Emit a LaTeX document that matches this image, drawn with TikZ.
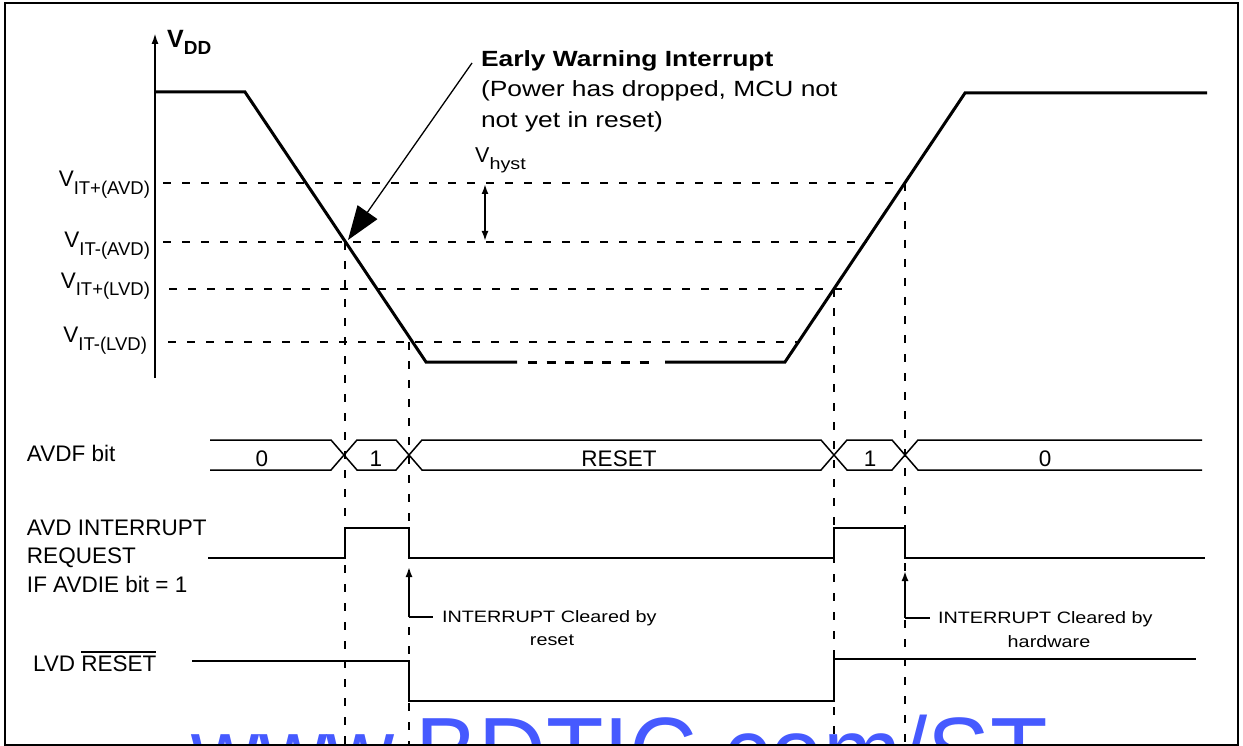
\documentclass[tikz,border=0pt]{standalone}
\usepackage{fontspec}
\setmainfont{Liberation Sans}
\newfontfamily\widefont{Liberation Sans}[FakeStretch=1.2]
\usetikzlibrary{arrows.meta}
\definecolor{wmblue}{RGB}{70,90,255}
\tikzset{
  wave/.style={line width=3pt, line join=miter},
  sig/.style={line width=2pt, line join=miter},
  bus/.style={line width=1.5pt, line join=miter},
  guide/.style={line width=1.8pt, dash pattern=on 8pt off 11pt},
  txt/.style={inner sep=0pt, outer sep=0pt, font=\fontsize{22.5}{27}\selectfont},
  ann/.style={inner sep=0pt, outer sep=0pt, font=\widefont\fontsize{16.5}{20}\selectfont},
  ewtxt/.style={inner sep=0pt, outer sep=0pt, font=\widefont\fontsize{22}{26}\selectfont},
  lvl/.style={inner sep=0pt, outer sep=0pt},
  ptr/.style={line width=1.8pt, -{Latex[length=10pt,width=7pt]}},
}
\newcommand{\vlab}[1]{{\fontsize{22.5}{26}\selectfont V\raisebox{-8pt}{\fontsize{18.5}{22}\selectfont #1}}}
\newcommand{\ovl}[1]{\vbox{\hrule height 1.5pt\kern 2.5pt\hbox{#1}}}
\begin{document}
\begin{tikzpicture}[x=1pt,y=-1pt]
\useasboundingbox (0,0) rectangle (1243,746);
% watermark
\begin{scope}
\clip (0,0) rectangle (1243,746);
\node[anchor=base west, inner sep=0pt, text=wmblue, font=\fontsize{100}{110}\selectfont] (wm) at (191,787) {\scalebox{0.94}[1]{www.BDTIC.com/ST}};
\end{scope}

% level guides (horizontal)
\coordinate (hA1s) at (163,183); \coordinate (hA1e) at (905,183);
\coordinate (hA2s) at (163,242); \coordinate (hA2e) at (867,242);
\coordinate (hL1s) at (169,289); \coordinate (hL1e) at (842,289);
\coordinate (hL2s) at (168,342); \coordinate (hL2e) at (800,342);
\draw[guide] (hA1s) -- (hA1e);
\draw[guide] (hA2s) -- (hA2e);
\draw[guide] (hL1s) -- (hL1e);
\draw[guide] (hL2s) -- (hL2e);
% vertical guides
\coordinate (g1t) at (345,242); \coordinate (g1b) at (345,746);
\coordinate (g2t) at (409,342); \coordinate (g2b) at (409,746);
\coordinate (g3t) at (834,289); \coordinate (g3b) at (834,746);
\coordinate (g4t) at (905,183); \coordinate (g4b) at (905,746);
\draw[guide] (g1t) -- (g1b);
\draw[guide] (g2t) -- (g2b);
\draw[guide] (g3t) -- (g3b);
\draw[guide] (g4t) -- (g4b);

% axis
\coordinate (axB) at (155,378); \coordinate (axT) at (155,33);
\draw[line width=2pt, -{Latex[length=11pt,width=7pt]}] (axB) -- (axT);
\node[anchor=base west, inner sep=0pt, font=\bfseries\fontsize{25}{30}\selectfont] (vdd) at (167,48) {V\raisebox{-7pt}{\fontsize{19}{22}\selectfont DD}};

% VDD waveform
\coordinate (p0) at (155,92); \coordinate (p1) at (245,92);
\coordinate (p2) at (426,362); \coordinate (p3) at (517,362);
\coordinate (q0) at (528,362); \coordinate (q1) at (652,362);
\coordinate (p4) at (665,362); \coordinate (p5) at (785,362);
\coordinate (p6) at (965,93); \coordinate (p7) at (1207,93);
\draw[wave] (p0) -- (p1) -- (p2) -- (p3);
\draw[wave, dash pattern=on 9pt off 9.6pt] (q0) -- (q1);
\draw[wave] (p4) -- (p5) -- (p6) -- (p7);

% level labels
\node[lvl, anchor=base east] (lA1) at (150,187) {\vlab{IT+(AVD)}};
\node[lvl, anchor=base east] (lA2) at (150,248) {\vlab{IT-(AVD)}};
\node[lvl, anchor=base east] (lL1) at (150,288) {\vlab{IT+(LVD)}};
\node[lvl, anchor=base east] (lL2) at (147,342) {\vlab{IT-(LVD)}};

% early warning
\coordinate (ewS) at (472,63); \coordinate (ewT) at (348,240);
\draw[line width=1.3pt, -{Triangle[length=34pt,width=24pt]}] (ewS) -- (ewT);
\node[ewtxt, anchor=base west] (ew1) at (481,67) {\bfseries Early Warning Interrupt};
\node[ewtxt, anchor=base west] (ew2) at (481,97) {(Power has dropped, MCU not};
\node[ewtxt, anchor=base west] (ew3) at (481,128) {not yet in reset)};

% V hyst
\node[anchor=base west, inner sep=0pt] (vh) at (475,163) {\fontsize{21.5}{25}\selectfont V\raisebox{-7pt}{\widefont\fontsize{16.5}{19}\selectfont hyst}};
\coordinate (hT) at (485,184); \coordinate (hB) at (485,241);
\draw[line width=2pt, {Latex[length=10pt,width=7pt]}-{Latex[length=10pt,width=7pt]}] (hT) -- (hB);

% AVDF bus
\coordinate (b0t) at (210,440); \coordinate (b0b) at (210,470);
\coordinate (x1l) at (331,0); \coordinate (x1r) at (357,0);
\coordinate (x2l) at (396,0); \coordinate (x2r) at (422,0);
\coordinate (x3l) at (821,0); \coordinate (x3r) at (847,0);
\coordinate (x4l) at (892,0); \coordinate (x4r) at (918,0);
\coordinate (bEt) at (1202,440); \coordinate (bEb) at (1202,470);
\draw[bus] (b0t) -- (x1l |- b0t) -- (x1r |- b0b) -- (x2l |- b0b) -- (x2r |- b0t) -- (x3l |- b0t) -- (x3r |- b0b) -- (x4l |- b0b) -- (x4r |- b0t) -- (bEt);
\draw[bus] (b0b) -- (x1l |- b0b) -- (x1r |- b0t) -- (x2l |- b0t) -- (x2r |- b0b) -- (x3l |- b0b) -- (x3r |- b0t) -- (x4l |- b0t) -- (x4r |- b0b) -- (bEb);
\node[txt, anchor=base] (v0a) at (262,466) {0};
\node[txt, anchor=base] (v1a) at (376,466) {1};
\node[txt, anchor=base] (vr) at (619,466) {RESET};
\node[txt, anchor=base] (v1b) at (870,466) {1};
\node[txt, anchor=base] (v0b) at (1045,466) {0};

% AVD interrupt request
\coordinate (a0) at (208,558); \coordinate (a9) at (1205,558);
\draw[sig] (a0) -- (345,558) -- (345,528) -- (409,528) -- (409,558) -- (834,558) -- (834,528) -- (905,528) -- (905,558) -- (a9);

% LVD reset
\coordinate (r0) at (192,661); \coordinate (r9) at (1196,659);
\draw[sig] (r0) -- (409,661) -- (409,701) -- (834,701) -- (834,659) -- (r9);

% row labels
\node[txt, anchor=base west] (avdf) at (27,461) {AVDF bit};
\node[txt, anchor=base west] (air1) at (27,535) {AVD INTERRUPT};
\node[txt, anchor=base west] (air2) at (27,563) {REQUEST};
\node[txt, anchor=base west] (air3) at (27,592) {IF AVDIE bit = 1};
\node[txt, anchor=base west] (lvd) at (33,671) {LVD \ovl{RESET}};

% annotations
\coordinate (c1c) at (409,617); \coordinate (c1t) at (409,567); \coordinate (c1e) at (433,617);
\draw[ptr] (c1c) -- (c1t);
\draw[line width=1.8pt] (c1c) -- (c1e);
\node[ann, anchor=base west] (n1a) at (442,622) {INTERRUPT Cleared by};
\node[ann, anchor=base] (n1b) at (552,645) {reset};
\coordinate (c2c) at (905,618); \coordinate (c2t) at (905,571); \coordinate (c2e) at (930,618);
\draw[ptr] (c2c) -- (c2t);
\draw[line width=1.8pt] (c2c) -- (c2e);
\node[ann, anchor=base west] (n2a) at (938,623) {INTERRUPT Cleared by};
\node[ann, anchor=base] (n2b) at (1049,647) {hardware};

% frame
\draw[line width=2pt] (5,3) rectangle (1238,745);
\end{tikzpicture}
\end{document}
